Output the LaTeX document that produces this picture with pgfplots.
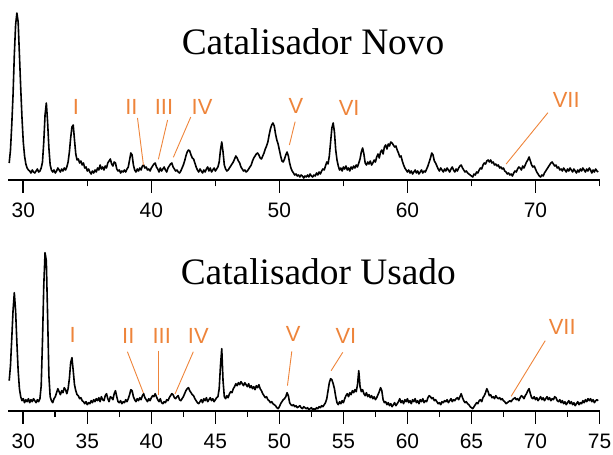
\documentclass[border=0pt]{standalone}
\usepackage{fontspec}
\setmainfont{Liberation Serif}
\newfontfamily\arial{Liberation Sans}
\usepackage{pgfplots}
\pgfplotsset{compat=1.18}
\definecolor{lblorange}{RGB}{238,132,58}
\pgfplotsset{xrd/.style={
  scale only axis, width=591.2bp, xmin=28.83, xmax=75, ymin=0,
  axis x line*=bottom, axis y line=none, ytick=\empty,
  xtick pos=left, tick align=outside,
  major tick length=13bp, minor tick length=6.5bp,
  every tick/.style={black, line width=1.6bp},
  axis line style={black, line width=1.8bp, -},
  /pgf/number format/assume math mode=true,
  xticklabel style={font=\arial\fontsize{21}{22}\selectfont, anchor=center, inner sep=0pt, yshift=-17.5bp},
  clip=false,
}}
\tikzset{lbl/.style={text=lblorange, font=\arial\fontsize{22}{22}\selectfont, inner sep=0pt},
  ldr/.style={draw=lblorange, line width=0.9bp}}
\begin{document}
\begin{tikzpicture}
\useasboundingbox (0,0) rectangle (613bp,455bp);
% ---------------- top: Catalisador Novo ----------------
\begin{axis}[xrd, at={(8.3bp,275bp)}, anchor=south west, height=180bp, ymax=180,
  xtick={30,40,50,60,70}, minor xtick={35,45,55,65,75}]
\addplot[black, line width=1.6bp, line join=round] coordinates {
(28.9,17)(29.0,30)(29.1,55)(29.2,85)(29.3,125)(29.4,155)(29.5,167)(29.6,158)(29.7,125)(29.8,92)(29.9,62)
(30.0,38)(30.1,24)(30.2,16)(30.3,12)(30.4,10)(30.5,9)(30.6,7)(30.7,10)(30.8,8)(30.9,7)
(31.0,9)(31.1,11)(31.2,8)(31.3,9)(31.4,12)(31.5,18)(31.6,38)(31.7,65)(31.8,77)(31.9,58)
(32.0,32)(32.1,15)(32.2,10)(32.3,8)(32.4,10)(32.5,7)(32.6,9)(32.7,12)(32.8,10)(32.9,8)
(33.0,11)(33.1,9)(33.2,12)(33.3,10)(33.4,13)(33.5,18)(33.6,28)(33.7,42)(33.8,53)(33.9,55)
(34.0,40)(34.1,26)(34.2,20)(34.3,21)(34.4,17)(34.5,19)(34.6,15)(34.7,17)(34.8,12)(34.9,13)
(35.0,9)(35.1,11)(35.2,8)(35.3,6)(35.4,9)(35.5,7)(35.6,10)(35.7,8)(35.8,12)(35.9,10)
(36.0,15)(36.1,11)(36.2,13)(36.3,10)(36.4,14)(36.5,12)(36.6,17)(36.7,19)(36.8,21)(36.9,16)
(37.0,14)(37.1,18)(37.2,17)(37.3,11)(37.4,9)(37.5,10)(37.6,7)(37.7,9)(37.8,8)(37.9,10)
(38.0,8)(38.1,11)(38.2,13)(38.3,20)(38.4,27)(38.5,25)(38.6,15)(38.7,10)(38.8,8)(38.9,11)
(39.0,9)(39.1,12)(39.2,10)(39.3,14)(39.4,15)(39.5,12)(39.6,13)(39.7,10)(39.8,11)(39.9,9)
(40.0,12)(40.1,14)(40.2,16)(40.3,17)(40.4,13)(40.5,11)(40.6,8)(40.7,12)(40.8,9)(40.9,11)
(41.0,13)(41.1,10)(41.2,8)(41.3,12)(41.4,14)(41.5,16)(41.6,17)(41.7,13)(41.8,11)(41.9,9)
(42.0,10)(42.1,8)(42.2,7)(42.3,9)(42.4,12)(42.5,15)(42.6,19)(42.7,24)(42.8,28)(42.9,30)
(43.0,29)(43.1,25)(43.2,22)(43.3,21)(43.4,17)(43.5,13)(43.6,10)(43.7,8)(43.8,11)(43.9,9)
(44.0,7)(44.1,10)(44.2,8)(44.3,11)(44.4,13)(44.5,9)(44.6,12)(44.7,8)(44.8,10)(44.9,12)
(45.0,9)(45.1,11)(45.2,13)(45.3,18)(45.4,30)(45.5,38)(45.6,28)(45.7,15)(45.8,11)(45.9,9)
(46.0,10)(46.1,12)(46.2,14)(46.3,16)(46.4,18)(46.5,21)(46.6,24)(46.7,22)(46.8,19)(46.9,17)
(47.0,13)(47.1,11)(47.2,9)(47.3,10)(47.4,8)(47.5,9)(47.6,11)(47.7,13)(47.8,15)(47.9,19)
(48.0,22)(48.1,24)(48.2,26)(48.3,27)(48.4,25)(48.5,22)(48.6,21)(48.7,24)(48.8,27)(48.9,31)
(49.0,34)(49.1,38)(49.2,45)(49.3,51)(49.4,55)(49.5,57)(49.6,54)(49.7,46)(49.8,40)(49.9,36)
(50.0,30)(50.1,24)(50.2,19)(50.3,18)(50.4,21)(50.5,25)(50.6,28)(50.7,24)(50.8,17)(50.9,12)
(51.0,9)(51.1,7)(51.2,5)(51.3,6)(51.4,4)(51.5,5)(51.6,3)(51.7,5)(51.8,4)(51.9,2)
(52.0,4)(52.1,3)(52.2,5)(52.3,3)(52.4,6)(52.5,4)(52.6,3)(52.7,5)(52.8,4)(52.9,7)
(53.0,5)(53.1,8)(53.2,6)(53.3,9)(53.4,11)(53.5,10)(53.6,14)(53.7,18)(53.8,16)(53.9,24)
(54.0,38)(54.1,52)(54.2,57)(54.3,48)(54.4,30)(54.5,20)(54.6,14)(54.7,10)(54.8,12)(54.9,9)
(55.0,13)(55.1,11)(55.2,14)(55.3,10)(55.4,12)(55.5,9)(55.6,13)(55.7,11)(55.8,14)(55.9,12)
(56.0,15)(56.1,13)(56.2,17)(56.3,21)(56.4,28)(56.5,32)(56.6,26)(56.7,17)(56.8,15)(56.9,18)
(57.0,16)(57.1,19)(57.2,15)(57.3,17)(57.4,20)(57.5,18)(57.6,23)(57.7,26)(57.8,22)(57.9,28)
(58.0,30)(58.1,26)(58.2,33)(58.3,35)(58.4,31)(58.5,36)(58.6,34)(58.7,38)(58.8,37)(58.9,35)
(59.0,33)(59.1,34)(59.2,30)(59.3,27)(59.4,23)(59.5,24)(59.6,19)(59.7,15)(59.8,12)(59.9,10)
(60.0,8)(60.1,10)(60.2,7)(60.3,9)(60.4,6)(60.5,8)(60.6,10)(60.7,7)(60.8,9)(60.9,6)
(61.0,8)(61.1,10)(61.2,7)(61.3,9)(61.4,8)(61.5,11)(61.6,14)(61.7,18)(61.8,22)(61.9,27)
(62.0,25)(62.1,19)(62.2,17)(62.3,14)(62.4,11)(62.5,9)(62.6,12)(62.7,10)(62.8,8)(62.9,11)
(63.0,9)(63.1,12)(63.2,10)(63.3,8)(63.4,11)(63.5,13)(63.6,10)(63.7,8)(63.8,11)(63.9,9)
(64.0,12)(64.1,14)(64.2,15)(64.3,12)(64.4,10)(64.5,8)(64.6,9)(64.7,7)(64.8,6)(64.9,5)
(65.0,4)(65.1,3)(65.2,6)(65.3,5)(65.4,8)(65.5,7)(65.6,10)(65.7,12)(65.8,11)(65.9,15)
(66.0,17)(66.1,16)(66.2,19)(66.3,20)(66.4,18)(66.5,20)(66.6,17)(66.7,18)(66.8,15)(66.9,16)
(67.0,14)(67.1,15)(67.2,12)(67.3,13)(67.4,11)(67.5,12)(67.6,9)(67.7,8)(67.8,6)(67.9,7)
(68.0,5)(68.1,6)(68.2,4)(68.3,7)(68.4,9)(68.5,8)(68.6,11)(68.7,13)(68.8,12)(68.9,10)
(69.0,14)(69.1,12)(69.2,15)(69.3,18)(69.4,20)(69.5,23)(69.6,19)(69.7,15)(69.8,13)(69.9,14)
(70.0,11)(70.1,8)(70.2,6)(70.3,4)(70.4,3)(70.5,5)(70.6,4)(70.7,7)(70.8,9)(70.9,11)
(71.0,13)(71.1,15)(71.2,17)(71.3,18)(71.4,16)(71.5,14)(71.6,15)(71.7,12)(71.8,13)(71.9,10)
(72.0,11)(72.1,9)(72.2,12)(72.3,10)(72.4,8)(72.5,11)(72.6,9)(72.7,12)(72.8,10)(72.9,8)
(73.0,11)(73.1,9)(73.2,7)(73.3,10)(73.4,8)(73.5,11)(73.6,9)(73.7,12)(73.8,10)(73.9,8)
(74.0,11)(74.1,9)(74.2,12)(74.3,10)(74.4,7)(74.5,10)(74.6,8)(74.7,11)(74.8,9)(74.9,8)
};
\node[lbl] at (axis cs:34.12,73) {I};
\node[lbl] at (axis cs:38.44,73) {II};
\node[lbl] at (axis cs:40.99,73) {III};
\node[lbl] at (axis cs:43.96,73) {IV};
\node[lbl] at (axis cs:51.30,74) {V};
\node[lbl] at (axis cs:55.45,72) {VI};
\node[lbl] at (axis cs:72.40,80) {VII};
\draw[ldr] (axis cs:38.92,62) -- (axis cs:39.38,15);
\draw[ldr] (axis cs:41.27,60) -- (axis cs:40.55,20.7);
\draw[ldr] (axis cs:43.08,63) -- (axis cs:41.72,22.7);
\draw[ldr] (axis cs:51.23,58.3) -- (axis cs:50.78,35);
\draw[ldr] (axis cs:70.97,67.3) -- (axis cs:67.71,16);
\end{axis}
% ---------------- bottom: Catalisador Usado ----------------
\begin{axis}[xrd, at={(8.3bp,44.3bp)}, anchor=south west, height=169bp, ymax=169,
  xtick={30,35,...,75}, minor xtick={32.5,37.5,...,72.5}]
\addplot[black, line width=1.6bp, line join=round] coordinates {
(28.9,30)(29.0,45)(29.1,72)(29.2,100)(29.3,118)(29.4,100)(29.5,68)(29.6,40)(29.7,22)(29.8,14)(29.9,10)
(30.0,12)(30.1,8)(30.2,11)(30.3,9)(30.4,12)(30.5,8)(30.6,11)(30.7,9)(30.8,12)(30.9,10)
(31.0,8)(31.1,11)(31.2,9)(31.3,12)(31.4,25)(31.5,70)(31.6,125)(31.7,158)(31.8,150)(31.9,95)
(32.0,35)(32.1,14)(32.2,10)(32.3,8)(32.4,12)(32.5,14)(32.6,18)(32.7,22)(32.8,19)(32.9,16)
(33.0,20)(33.1,18)(33.2,23)(33.3,21)(33.4,17)(33.5,22)(33.6,32)(33.7,48)(33.8,53)(33.9,40)
(34.0,26)(34.1,20)(34.2,16)(34.3,15)(34.4,12)(34.5,13)(34.6,10)(34.7,9)(34.8,7)(34.9,9)
(35.0,6)(35.1,8)(35.2,7)(35.3,10)(35.4,8)(35.5,11)(35.6,9)(35.7,12)(35.8,10)(35.9,13)
(36.0,9)(36.1,14)(36.2,11)(36.3,10)(36.4,15)(36.5,17)(36.6,12)(36.7,9)(36.8,14)(36.9,13)
(37.0,11)(37.1,17)(37.2,20)(37.3,14)(37.4,9)(37.5,8)(37.6,10)(37.7,7)(37.8,9)(37.9,8)
(38.0,11)(38.1,9)(38.2,12)(38.3,16)(38.4,21)(38.5,20)(38.6,14)(38.7,11)(38.8,9)(38.9,12)
(39.0,10)(39.1,13)(39.2,11)(39.3,15)(39.4,17)(39.5,13)(39.6,11)(39.7,9)(39.8,12)(39.9,10)
(40.0,13)(40.1,15)(40.2,14)(40.3,17)(40.4,14)(40.5,11)(40.6,9)(40.7,12)(40.8,8)(40.9,7)
(41.0,9)(41.1,8)(41.2,11)(41.3,10)(41.4,13)(41.5,15)(41.6,17)(41.7,16)(41.8,13)(41.9,12)
(42.0,14)(42.1,15)(42.2,11)(42.3,10)(42.4,12)(42.5,14)(42.6,17)(42.7,20)(42.8,22)(42.9,23)
(43.0,20)(43.1,18)(43.2,16)(43.3,15)(43.4,12)(43.5,10)(43.6,8)(43.7,7)(43.8,9)(43.9,11)
(44.0,8)(44.1,12)(44.2,10)(44.3,13)(44.4,9)(44.5,11)(44.6,13)(44.7,10)(44.8,12)(44.9,9)
(45.0,11)(45.1,13)(45.2,14)(45.3,22)(45.4,45)(45.5,62)(45.6,30)(45.7,14)(45.8,12)(45.9,15)
(46.0,13)(46.1,17)(46.2,19)(46.3,18)(46.4,22)(46.5,24)(46.6,27)(46.7,25)(46.8,28)(46.9,26)
(47.0,29)(47.1,27)(47.2,25)(47.3,28)(47.4,26)(47.5,24)(47.6,27)(47.7,23)(47.8,25)(47.9,22)
(48.0,24)(48.1,21)(48.2,25)(48.3,23)(48.4,26)(48.5,22)(48.6,20)(48.7,17)(48.8,15)(48.9,13)
(49.0,14)(49.1,11)(49.2,10)(49.3,8)(49.4,9)(49.5,7)(49.6,6)(49.7,5)(49.8,3)(49.9,2)
(50.0,4)(50.1,7)(50.2,9)(50.3,11)(50.4,12)(50.5,14)(50.6,18)(50.7,15)(50.8,8)(50.9,6)
(51.0,5)(51.1,6)(51.2,4)(51.3,5)(51.4,3)(51.5,4)(51.6,5)(51.7,3)(51.8,2)(51.9,4)
(52.0,3)(52.1,2)(52.2,3)(52.3,1)(52.4,2)(52.5,3)(52.6,1)(52.7,2)(52.8,1)(52.9,3)
(53.0,2)(53.1,4)(53.2,3)(53.3,5)(53.4,4)(53.5,6)(53.6,8)(53.7,12)(53.8,20)(53.9,28)
(54.0,32)(54.1,31)(54.2,27)(54.3,22)(54.4,14)(54.5,8)(54.6,6)(54.7,9)(54.8,7)(54.9,10)
(55.0,8)(55.1,12)(55.2,15)(55.3,17)(55.4,14)(55.5,18)(55.6,16)(55.7,20)(55.8,18)(55.9,21)
(56.0,19)(56.1,26)(56.2,40)(56.3,24)(56.4,19)(56.5,21)(56.6,17)(56.7,15)(56.8,18)(56.9,14)
(57.0,16)(57.1,13)(57.2,15)(57.3,12)(57.4,14)(57.5,11)(57.6,13)(57.7,16)(57.8,19)(57.9,23)
(58.0,20)(58.1,11)(58.2,8)(58.3,9)(58.4,6)(58.5,8)(58.6,5)(58.7,7)(58.8,4)(58.9,6)
(59.0,8)(59.1,5)(59.2,7)(59.3,9)(59.4,12)(59.5,8)(59.6,10)(59.7,7)(59.8,11)(59.9,9)
(60.0,12)(60.1,8)(60.2,10)(60.3,7)(60.4,11)(60.5,9)(60.6,12)(60.7,8)(60.8,10)(60.9,7)
(61.0,11)(61.1,9)(61.2,12)(61.3,8)(61.4,10)(61.5,9)(61.6,13)(61.7,15)(61.8,14)(61.9,12)
(62.0,13)(62.1,10)(62.2,11)(62.3,9)(62.4,7)(62.5,8)(62.6,6)(62.7,9)(62.8,8)(62.9,10)
(63.0,9)(63.1,11)(63.2,8)(63.3,10)(63.4,12)(63.5,9)(63.6,11)(63.7,10)(63.8,12)(63.9,13)
(64.0,11)(64.1,14)(64.2,17)(64.3,13)(64.4,10)(64.5,8)(64.6,9)(64.7,7)(64.8,6)(64.9,4)
(65.0,3)(65.1,2)(65.2,4)(65.3,6)(65.4,8)(65.5,7)(65.6,10)(65.7,11)(65.8,9)(65.9,13)
(66.0,15)(66.1,18)(66.2,22)(66.3,19)(66.4,15)(66.5,16)(66.6,13)(66.7,14)(66.8,12)(66.9,15)
(67.0,13)(67.1,12)(67.2,13)(67.3,11)(67.4,12)(67.5,10)(67.6,9)(67.7,7)(67.8,8)(67.9,9)
(68.0,10)(68.1,9)(68.2,11)(68.3,12)(68.4,13)(68.5,11)(68.6,12)(68.7,10)(68.8,13)(68.9,15)
(69.0,14)(69.1,12)(69.2,15)(69.3,17)(69.4,20)(69.5,22)(69.6,17)(69.7,13)(69.8,12)(69.9,14)
(70.0,11)(70.1,13)(70.2,10)(70.3,12)(70.4,14)(70.5,11)(70.6,13)(70.7,10)(70.8,12)(70.9,14)
(71.0,11)(71.1,13)(71.2,10)(71.3,12)(71.4,11)(71.5,14)(71.6,13)(71.7,10)(71.8,9)(71.9,11)
(72.0,8)(72.1,10)(72.2,7)(72.3,9)(72.4,6)(72.5,8)(72.6,10)(72.7,7)(72.8,9)(72.9,6)
(73.0,8)(73.1,5)(73.2,7)(73.3,9)(73.4,6)(73.5,8)(73.6,7)(73.7,10)(73.8,8)(73.9,11)
(74.0,9)(74.1,12)(74.2,10)(74.3,12)(74.4,9)(74.5,11)(74.6,8)(74.7,10)(74.8,11)(74.9,10)
};
\node[lbl] at (axis cs:33.86,75.7) {I};
\node[lbl] at (axis cs:38.20,74.7) {II};
\node[lbl] at (axis cs:40.81,74.7) {III};
\node[lbl] at (axis cs:43.67,74.7) {IV};
\node[lbl] at (axis cs:51.07,76.7) {V};
\node[lbl] at (axis cs:55.20,75) {VI};
\node[lbl] at (axis cs:72.09,83.7) {VII};
\draw[ldr] (axis cs:38.13,59) -- (axis cs:39.38,17.7);
\draw[ldr] (axis cs:40.55,60) -- (axis cs:40.55,15.7);
\draw[ldr] (axis cs:43.28,59) -- (axis cs:41.85,16.7);
\draw[ldr] (axis cs:50.97,59.4) -- (axis cs:50.63,25);
\draw[ldr] (axis cs:54.95,58.4) -- (axis cs:54.04,40);
\draw[ldr] (axis cs:70.76,70) -- (axis cs:68.10,14.4);
\end{axis}
\node[anchor=base, font=\fontsize{37.5}{40}\selectfont] at (313bp,400bp) {Catalisador Novo};
\node[anchor=base, font=\fontsize{37.5}{40}\selectfont] at (318.3bp,170bp) {Catalisador Usado};
\end{tikzpicture}
\end{document}
